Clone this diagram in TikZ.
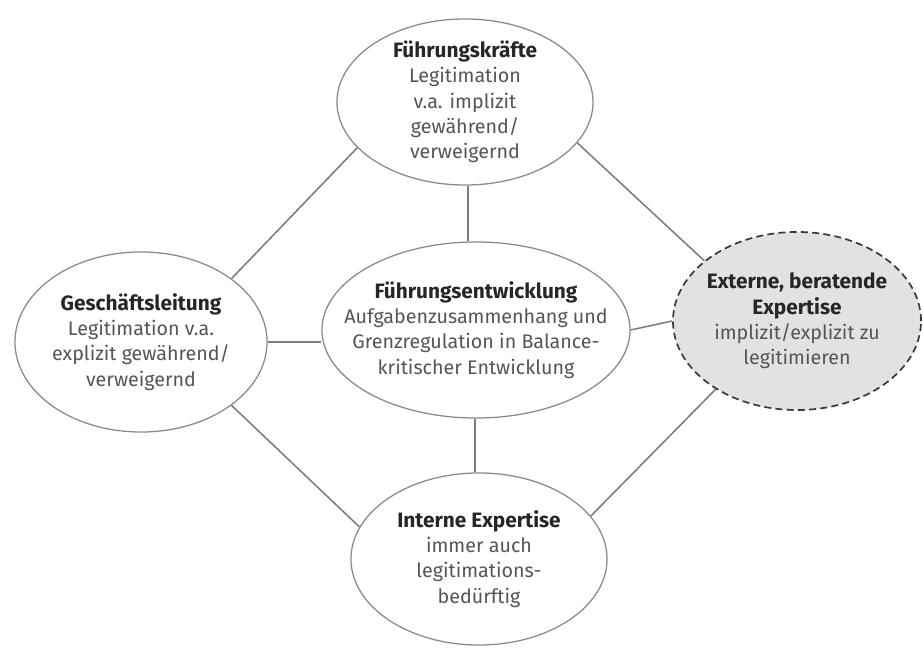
\documentclass[tikz,border=0pt]{standalone}
\usepackage{fontspec}
\setmainfont{Fira Sans}
\usetikzlibrary{shapes.geometric}
\definecolor{rimgray}{HTML}{8A8A8A}
\definecolor{linkgray}{HTML}{7C7C7C}
\definecolor{titleink}{HTML}{262626}
\definecolor{bodyink}{HTML}{555555}
\definecolor{extfill}{HTML}{E2E2E2}
\tikzset{
  field/.style={ellipse, draw=rimgray, line width=0.9pt, fill=white, inner sep=0pt},
  extfield/.style={field, draw=black!78, fill=extfill, line width=1.2pt,
    dash pattern=on 5pt off 3pt},
  fieldtext/.style={align=center, inner sep=0pt, text=bodyink,
    font=\fontsize{14}{18}\selectfont},
  link/.style={draw=linkgray, line width=1.1pt},
}
\newcommand{\hd}[1]{{\fontsize{14.8}{18}\selectfont\bfseries\color{titleink}#1}}

\begin{document}
\begin{tikzpicture}[x=0.025cm, y=-0.025cm]
\useasboundingbox (0,0) rectangle (923,649);
% fields
\node[field, minimum width=6.4cm, minimum height=4.15cm] (fk) at (465,102) {};
\node[fieldtext] (fk-t) at (fk)
  {\hd{Führungskräfte}\\Legitimation\\v.a. implizit\\gewährend/\\verweigernd};
\node[field, minimum width=6.3cm, minimum height=4.5cm] (gl) at (141,342) {};
\node[fieldtext] (gl-t) at (gl)
  {\hd{Geschäftsleitung}\\Legitimation v.a.\\explizit gewährend/\\verweigernd};
\node[field, minimum width=7.7cm, minimum height=4.4cm] (fe) at (476,330) {};
\node[fieldtext] (fe-t) at (fe)
  {\hd{Führungsentwicklung}\\Aufgabenzusammenhang und\\Grenzregulation in Balance-\\kritischer Entwicklung};
\node[extfield, minimum width=6.2cm, minimum height=4.45cm] (ex) at (797,321) {};
\node[fieldtext] (ex-t) at (ex)
  {\hd{Externe, beratende}\\\hd{Expertise}\\implizit/explizit zu\\legitimieren};
\node[field, minimum width=6.4cm, minimum height=4.3cm] (ie) at (479,559) {};
\node[fieldtext] (ie-t) at (ie)
  {\hd{Interne Expertise}\\immer auch\\legitimations-\\bedürftig};
% links
\draw[link] (fk.203) -- (gl.35);
\draw[link] (fk.340) -- (ex.147);
\draw[link] (fk.south -| 468,0) -- (fe.north -| 468,0);
\draw[link] (gl.east) -- (fe.west |- gl.east);
\draw[link] (fe.east) -- (ex.west);
\draw[link] (gl.325) -- (ie.165);
\draw[link] (fe.south -| 475,0) -- (ie.north -| 475,0);
\draw[link] (ie.21) -- (ex.220);
\end{tikzpicture}
\end{document}
